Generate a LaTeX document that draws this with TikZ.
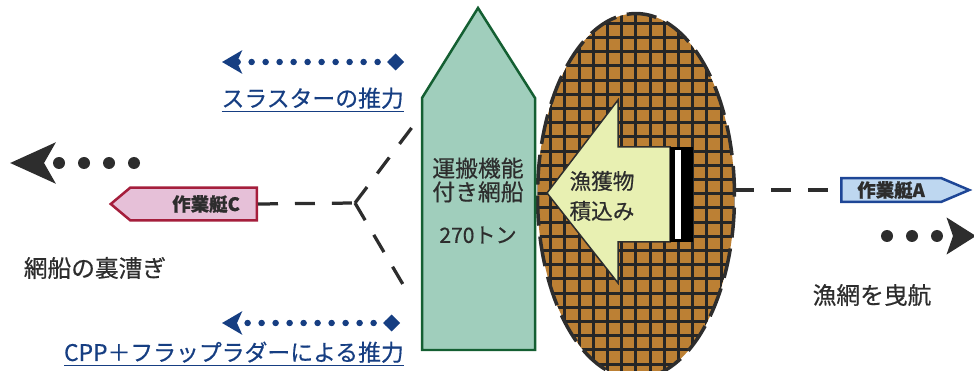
\documentclass[tikz,border=0pt]{standalone}
\usepackage{fontspec}
\setmainfont{Noto Sans CJK JP}[FakeBold=0.5]
\usetikzlibrary{arrows.meta, positioning, shapes.geometric, shapes.symbols}
\definecolor{thrustblue}{RGB}{22,62,130}
\definecolor{textgray}{RGB}{45,45,45}
\definecolor{shipgreen}{RGB}{160,206,188}
\definecolor{shipline}{RGB}{20,95,50}
\definecolor{netbrown}{RGB}{188,128,52}
\definecolor{loadyellow}{RGB}{232,240,178}
\definecolor{boatpink}{RGB}{230,192,216}
\definecolor{boatred}{RGB}{165,30,60}
\definecolor{boatblue}{RGB}{190,215,240}
\definecolor{boatline}{RGB}{30,70,150}

\begin{document}
\begin{tikzpicture}[x=0.02cm, y=-0.02cm,
    thrust/.style={thrustblue, line width=0.13cm, line cap=round, dash pattern=on 0pt off 0.28cm,
        {Diamond[length=0.34cm, width=0.34cm]}-{Stealth[length=0.4cm, width=0.46cm, inset=0.1cm]}},
    bigmove/.style={textgray, line width=0.24cm, line cap=round, dash pattern=on 0pt off 0.5cm},
    tow/.style={textgray, line width=0.065cm, dash pattern=on 0.4cm off 0.34cm},
    netline/.style={black!85, line width=0.06cm},
    netborder/.style={textgray, line width=0.07cm, dash pattern=on 0.6cm off 0.22cm},
    boat/.style={signal, draw, line width=0.05cm, font=\bfseries\fontsize{10.5}{11}\selectfont, text=textgray, inner sep=0pt},
    label/.style={text=textgray, font=\fontsize{13.5}{14}\selectfont},
    bluelabel/.style={text=thrustblue, font=\fontsize{13}{14}\selectfont}]
    \useasboundingbox (0,0) rectangle (974,371);

    % スラスターの推力 (上)
    \coordinate (thrTopR) at (404,62);
    \coordinate (thrTopL) at (222,62);
    \draw[thrust] (thrTopR) -- (thrTopL);
    \node[bluelabel, anchor=east] (thrTopLbl) at (410,100) {\underline{スラスターの推力}};

    % CPP + フラップラダー (下)
    \coordinate (thrBotR) at (400,323);
    \coordinate (thrBotL) at (222,323);
    \draw[thrust] (thrBotR) -- (thrBotL);
    \node[bluelabel, anchor=east] (thrBotLbl) at (410,354) {\underline{CPP＋フラップラダーによる推力}};

    % 網船の裏漕ぎ
    \coordinate (backTail) at (134,163);
    \coordinate (backTip) at (10,163);
    \draw[bigmove, -{Stealth[length=0.9cm, width=0.8cm, inset=0.22cm]}] (backTail) -- (backTip);
    \node[label] (backLbl) at (95,268) {網船の裏漕ぎ};

    % 作業艇C
    \node[boat, fill=boatpink, draw=boatred, signal to=west, signal from=nowhere, signal pointer angle=80,
        minimum width=2.92cm, minimum height=0.66cm, anchor=east] (boatC) at (258,204) {\hspace{0.5cm}作業艇C};
    \coordinate (fork) at (355,203);
    \coordinate (shipUp) at (413,126);
    \coordinate (shipDown) at (411,298);
    \draw[tow] (boatC.east) -- (fork);
    \draw[tow] (fork) -- (shipUp);
    \draw[tow] (fork) -- (shipDown);

    % 網 (楕円)
    \node[ellipse, fill=netbrown, inner sep=0pt, outer sep=0pt,
        minimum width=3.94cm, minimum height=7.3cm] (net) at (636,196) {};
    \begin{scope}
        \clip (net.center) ellipse (1.97cm and 3.65cm);
        \foreach \gx in {529,543,...,745} \draw[netline] (\gx+0.2*\gx/14,0) -- (\gx+0.2*\gx/14,380);
        \foreach \gy in {9,23,...,380} \draw[netline] (530,\gy+0.2*\gy/14) -- (745,\gy+0.2*\gy/14);
    \end{scope}
    \draw[netborder] (net.center) ellipse (1.97cm and 3.65cm);

    % 運搬機能付き網船
    \draw[shipline, fill=shipgreen, line width=0.05cm]
        (422,350) -- (422,98) -- (478,8) -- (535,98) -- (535,350) -- cycle;
    \node[label, align=center, font=\fontsize{13}{13.5}\selectfont] (ship) at (478,180) {運搬機能\\付き網船};
    \node[label, font=\fontsize{12}{13}\selectfont] (shipTon) at (478,235) {270トン};

    % 漁獲物積込み
    \draw[textgray, fill=loadyellow, line width=0.03cm]
        (547,193) -- (618,100) -- (618,147) -- (670,147) -- (670,242) -- (618,242) -- (618,283) -- cycle;
    \fill[black] (670,147) rectangle (693,242);
    \fill[white] (675,150) rectangle (681,239);
    \node[label, align=center, font=\fontsize{12.3}{17}\selectfont] (load) at (602,196) {漁獲物\\積込み};

    % 作業艇A
    \node[boat, fill=boatblue, draw=boatline, signal to=east, signal from=nowhere, signal pointer angle=46,
        minimum width=2.56cm, minimum height=0.48cm, anchor=west] (boatA) at (840,190) {作業艇A\hspace{0.45cm}};
    \draw[tow] (net.east |- boatA.west) -- (boatA.west);

    % 漁網を曳航
    \coordinate (towTail) at (887,236);
    \coordinate (towTip) at (976,236);
    \draw[bigmove, -{Stealth[length=0.58cm, width=0.72cm, inset=0.12cm]}] (towTail) -- (towTip);
    \node[label] (towLbl) at (872,295) {漁網を曳航};
\end{tikzpicture}
\end{document}
